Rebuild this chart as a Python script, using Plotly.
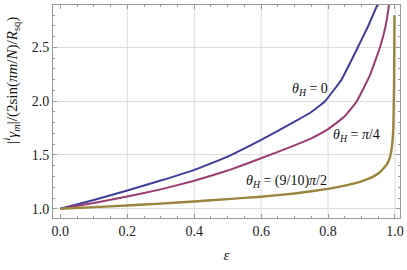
import plotly.graph_objects as go

# data
eps_t0 = [0.0, 0.1, 0.2, 0.3, 0.4, 0.5, 0.6, 0.7, 0.75, 0.791, 0.84, 0.884, 0.92, 0.947, 0.955]
val_t0 = [1.0, 1.082, 1.17, 1.262, 1.362, 1.485, 1.64, 1.81, 1.9, 2.0, 2.2, 2.47, 2.7, 2.895, 2.96]

eps_t45 = [0.0, 0.1, 0.2, 0.3, 0.4, 0.5, 0.6, 0.7, 0.75, 0.8, 0.85, 0.886, 0.925, 0.955, 0.972, 0.982, 0.986]
val_t45 = [1.0, 1.054, 1.114, 1.18, 1.26, 1.355, 1.47, 1.59, 1.655, 1.74, 1.86, 2.0, 2.24, 2.5, 2.7, 2.895, 3.0]

eps_t81 = [0.0, 0.1, 0.2, 0.3, 0.4, 0.5, 0.6, 0.7, 0.8, 0.86, 0.9, 0.925, 0.955, 0.975, 0.985, 0.991, 0.995,
           0.997, 0.998, 0.9985]
val_t81 = [1.0, 1.015, 1.03, 1.048, 1.068, 1.09, 1.112, 1.142, 1.185, 1.222, 1.255, 1.285, 1.34, 1.41, 1.48, 1.58,
           1.75, 2.1, 2.5, 2.8]

labels = ["<i>θ</i><sub><i>H</i></sub> = 0",
          "<i>θ</i><sub><i>H</i></sub> = <i>π</i>/4",
          "<i>θ</i><sub><i>H</i></sub> = (9/10)<i>π</i>/2"]
label_x = [0.745, 0.885, 0.675]
label_y = [2.11, 1.68, 1.25]

x_ticks = [0.0, 0.2, 0.4, 0.6, 0.8, 1.0]
x_grid = [0.2, 0.4, 0.6, 0.8, 1.0]
y_ticks = [1.0, 1.5, 2.0, 2.5]

colors = ["#3f3d99", "#993d71", "#99853d"]
widths = [2.0, 2.0, 2.4]
FONT = "Liberation Serif, Tinos, Times New Roman, Liberation Sans, Arial"
AX = "#999999"
GRID = "#dcdcdc"

fig = go.Figure()
for xs, ys, c, w in [(eps_t0, val_t0, colors[0], widths[0]),
                     (eps_t45, val_t45, colors[1], widths[1]),
                     (eps_t81, val_t81, colors[2], widths[2])]:
    fig.add_trace(go.Scatter(x=xs, y=ys, mode="lines", line=dict(color=c, width=w, shape="spline", smoothing=0.3),
                             showlegend=False, hoverinfo="skip"))

for t, x, y in zip(labels, label_x, label_y):
    fig.add_annotation(x=x, y=y, text=t, showarrow=False, font=dict(family=FONT, size=14, color="#111"))

# vertical grid lines at the major x ticks (none at 0)
for gx in x_grid:
    fig.add_shape(type="line", xref="x", yref="paper", x0=gx, x1=gx, y0=0, y1=1,
                  line=dict(color=GRID, width=1), layer="below")

# y-axis label
fig.add_annotation(xref="paper", yref="paper", x=-0.121, y=0.645, textangle=-90, showarrow=False,
                   text="|<sup><i>i</i></sup><i>γ</i><sub><i>m</i></sub>|/(2sin(<i>πm</i>/<i>N</i>)/<i>R</i><sub>sq</sub>)",
                   font=dict(family=FONT, size=15, color="#111"), xanchor="center", yanchor="middle")

xr = [-0.022, 1.015]
yr = [0.914, 2.895]

fig.update_layout(
    width=407, height=270,
    margin=dict(l=53, r=7, t=5, b=52),
    paper_bgcolor="white", plot_bgcolor="white",
    font=dict(family=FONT, size=14, color="#222"),
    xaxis=dict(range=xr, tickvals=x_ticks, ticktext=[f"{v:.1f}" for v in x_ticks], automargin=False,
               showgrid=False, zeroline=False, showline=True, linecolor=AX, linewidth=1, mirror="allticks",
               ticks="inside", ticklen=4, tickcolor=AX, tickfont=dict(size=14),
               minor=dict(dtick=0.05, ticks="inside", ticklen=2, tickcolor=AX, showgrid=False),
               title=dict(text="<i>ε</i>", standoff=11, font=dict(size=15))),
    yaxis=dict(range=yr, tickvals=y_ticks, ticktext=[f"{v:.1f}" for v in y_ticks], automargin=False,
               showgrid=True, gridcolor=GRID, gridwidth=1, zeroline=False,
               showline=True, linecolor=AX, linewidth=1, mirror="allticks",
               ticks="inside", ticklen=4, tickcolor=AX, tickfont=dict(size=14),
               minor=dict(dtick=0.1, ticks="inside", ticklen=2, tickcolor=AX, showgrid=False)),
)

fig.write_html("out.html", config={"displayModeBar": False},
               post_script="document.body.style.margin='0';document.body.style.padding='0';")
